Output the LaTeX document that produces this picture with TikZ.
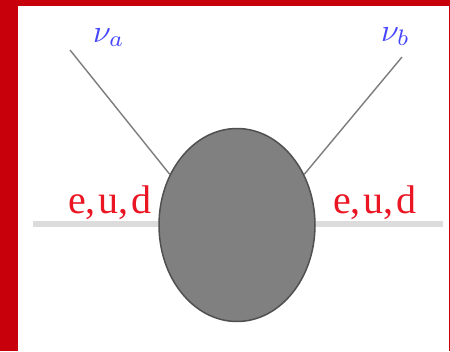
\documentclass[tikz,border=0pt]{standalone}
\usepackage{fontspec}
\newfontfamily\lib{Liberation Serif}
\usetikzlibrary{shapes.geometric}
\definecolor{frame}{RGB}{200,0,12}
\definecolor{txtred}{RGB}{235,22,35}
\definecolor{nublue}{RGB}{70,70,255}
\definecolor{blobfill}{RGB}{128,128,128}
\definecolor{blobedge}{RGB}{80,80,80}
\definecolor{beam}{RGB}{220,220,220}
\definecolor{nuline}{RGB}{125,125,125}
\tikzset{
  beamline/.style={draw=beam, line width=6pt},
  nuleg/.style={draw=nuline, line width=1.4pt},
  blobstyle/.style={ellipse, draw=blobedge, fill=blobfill, line width=1.5pt, minimum width=156pt, minimum height=193pt, inner sep=0pt},
  fermlabel/.style={text=txtred, inner sep=0pt, anchor=base west, font=\lib\fontsize{40}{40}\selectfont},
  nulabel/.style={text=nublue, inner sep=0pt, anchor=base west}
}
\begin{document}
\begin{tikzpicture}[x=1pt,y=-1pt]
\useasboundingbox (0,0) rectangle (450,351);
\fill[white] (0,0) rectangle (450,351);
% frame
\fill[frame] (0,0) rectangle (18,351);
\fill[frame] (0,0) rectangle (450,6);
\fill[frame] (448.5,0) rectangle (450,351);
% beam
\coordinate (L) at (33,224);
\coordinate (R) at (443,224);
\draw[beamline] (L) -- (R);
% blob
\node[blobstyle] (blob) at (237,225) {};
% neutrino legs
\coordinate (nA) at (70,50);
\coordinate (nB) at (402,57);
\draw[nuleg] (nA) -- (blob.143);
\draw[nuleg] (nB) -- (blob.37);
% labels
\node[nulabel] (la) at (93,42) {\scalebox{3.2}{$\nu_a$}};
\node[nulabel] (lb) at (381,41) {\scalebox{3.2}{$\nu_b$}};
\node[fermlabel] (fl) at (68,213) {e,\hspace{3pt}u,\hspace{3pt}d};
\node[fermlabel] (fr) at (333,213) {e,\hspace{3pt}u,\hspace{3pt}d};
\end{tikzpicture}
\end{document}
